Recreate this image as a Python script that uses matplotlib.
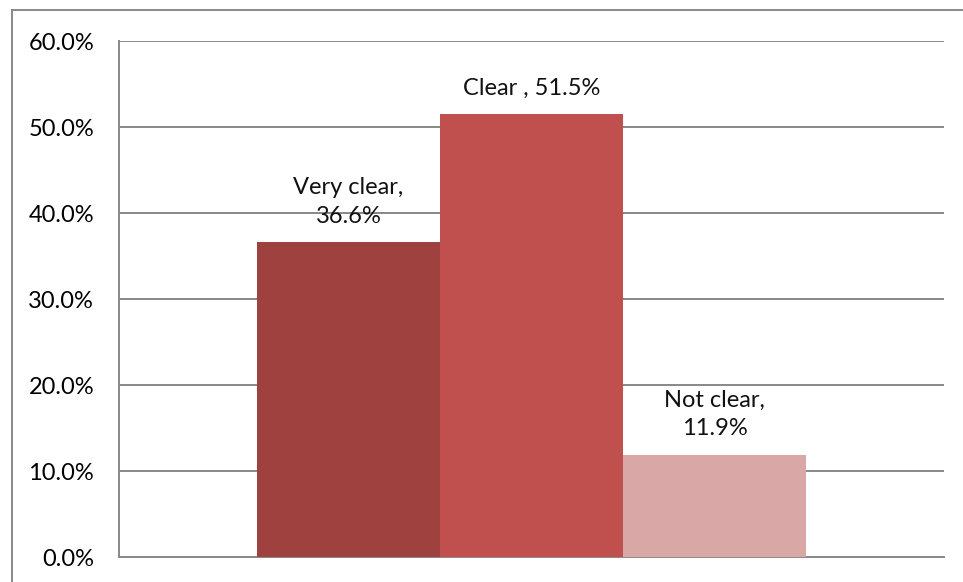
import matplotlib
matplotlib.use("Agg")
import matplotlib.pyplot as plt
from matplotlib.lines import Line2D

categories = ["Very clear", "Clear ", "Not clear"]
values = [36.6, 51.5, 11.9]
labels = ["Very clear,\n36.6%", "Clear , 51.5%", "Not clear,\n11.9%"]
colors = ["#9E413F", "#C0504D", "#D9A7A6"]
yticks = [0, 10, 20, 30, 40, 50, 60]

plt.rcParams['font.family'] = ['Lato', 'DejaVu Sans']

W, H = 963, 582
fig = plt.figure(figsize=(W / 100, H / 100), dpi=100)
ax = fig.add_axes([119 / W, 1 - 557 / H, (944 - 119) / W, (557 - 41) / H])

pos = [-1, 0, 1]
ax.bar(pos, values, width=1.0, color=colors, zorder=3)

for x, v, lab in zip(pos, values, labels):
    ax.annotate(lab, (x, v), xytext=(0, 11), textcoords='offset points',
                ha='center', va='bottom', fontsize=17, color='#111111',
                linespacing=1.45, zorder=4)

ax.set_xlim(-2.254, 2.254)
ax.set_ylim(0, 60)
ax.set_yticks(yticks)
ax.set_yticklabels([f"{t:.1f}%" for t in yticks], fontsize=17)
ax.set_xticks([])
ax.tick_params(axis='y', length=0, pad=18)
ax.yaxis.grid(True, color='#888888', linewidth=1.4, zorder=0)
ax.set_axisbelow(True)

for side in ['top', 'right']:
    ax.spines[side].set_visible(False)
ax.spines['left'].set_color('#888888')
ax.spines['left'].set_linewidth(1.4)
ax.spines['bottom'].set_color('#888888')
ax.spines['bottom'].set_linewidth(1.4)

# outer chart frame (left and top edges)
fig.add_artist(Line2D([12 / W, 12 / W], [0, 1 - 10 / H], transform=fig.transFigure,
                      color='#888888', linewidth=1.4))
fig.add_artist(Line2D([12 / W, 1], [1 - 10 / H, 1 - 10 / H], transform=fig.transFigure,
                      color='#888888', linewidth=1.4))

fig.savefig("out.png", dpi=100)
